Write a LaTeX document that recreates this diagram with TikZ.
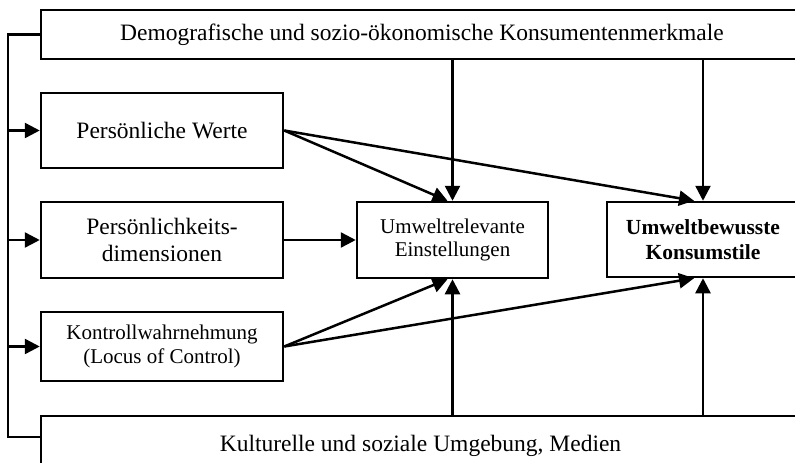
\documentclass[tikz,border=0pt]{standalone}
\usepackage{fontspec}
\setmainfont{Liberation Serif}
\usetikzlibrary{arrows.meta,calc}
\begin{document}
\begin{tikzpicture}[x=1pt,y=-1pt,
  box/.style={draw,line width=2.5pt,rectangle,inner sep=0pt,align=center},
  big/.style={font=\fontsize{23.5}{27}\selectfont},
  small/.style={font=\fontsize{21}{23.5}\selectfont},
  arr/.style={line width=2.5pt,-{Triangle[length=15pt,width=15pt]}},
  ln/.style={line width=2.5pt}]
\useasboundingbox (0,0) rectangle (795,463);
\clip (0,0) rectangle (795,463);
\node[box,big,minimum width=762pt,minimum height=49pt] (top) at (422,34.5) {Demografische und sozio-ökonomische Konsumentenmerkmale};
\node[box,big,minimum width=242pt,minimum height=75pt] (werte) at (162,130.5) {Persönliche Werte};
\node[box,big,minimum width=242pt,minimum height=76pt] (dims) at (162,240) {Persönlichkeits-\\dimensionen};
\node[box,small,font=\fontsize{21}{24.5}\selectfont,minimum width=242pt,minimum height=69pt] (kontroll) at (162,346.5) {Kontrollwahrnehmung\\(Locus of Control)};
\node[box,small,minimum width=191pt,minimum height=76pt] (umwelt) at (452.5,240) {Umweltrelevante\\Einstellungen};
\node[box,font=\fontsize{21.5}{25}\selectfont\bfseries,minimum width=192pt,minimum height=75pt] (konsum) at (703,239.5) {Umweltbewusste\\Konsumstile};
\node[box,big,minimum width=759pt,minimum height=60pt] (bottom) at (420.5,446) {Kulturelle und soziale Umgebung, Medien};
\coordinate (lt) at (8,34.5);
\coordinate (lb) at (8,437);
\draw[ln] (top.west) -- (lt) -- (lb) -- (lb -| bottom.west);
\draw[arr] (lt |- werte.west) -- (werte.west);
\draw[arr] (lt |- dims.west) -- (dims.west);
\draw[arr] (lt |- kontroll.west) -- (kontroll.west);
\draw[arr] (umwelt.north |- top.south) -- (umwelt.north);
\draw[arr] (konsum.north |- top.south) -- (konsum.north);
\draw[arr] (umwelt.south |- bottom.north) -- (umwelt.south);
\draw[arr] (konsum.south |- bottom.north) -- (konsum.south);
\draw[arr] (dims.east) -- (umwelt.west);
\draw[arr] (werte.east) -- ($(umwelt.north)+(-5,0)$);
\draw[arr] (werte.east) -- ($(konsum.north)+(-9,0)$);
\draw[arr] (kontroll.east) -- ($(umwelt.south)+(-5,0)$);
\draw[arr] (kontroll.east) -- ($(konsum.south)+(-9,0)$);
\end{tikzpicture}
\end{document}
